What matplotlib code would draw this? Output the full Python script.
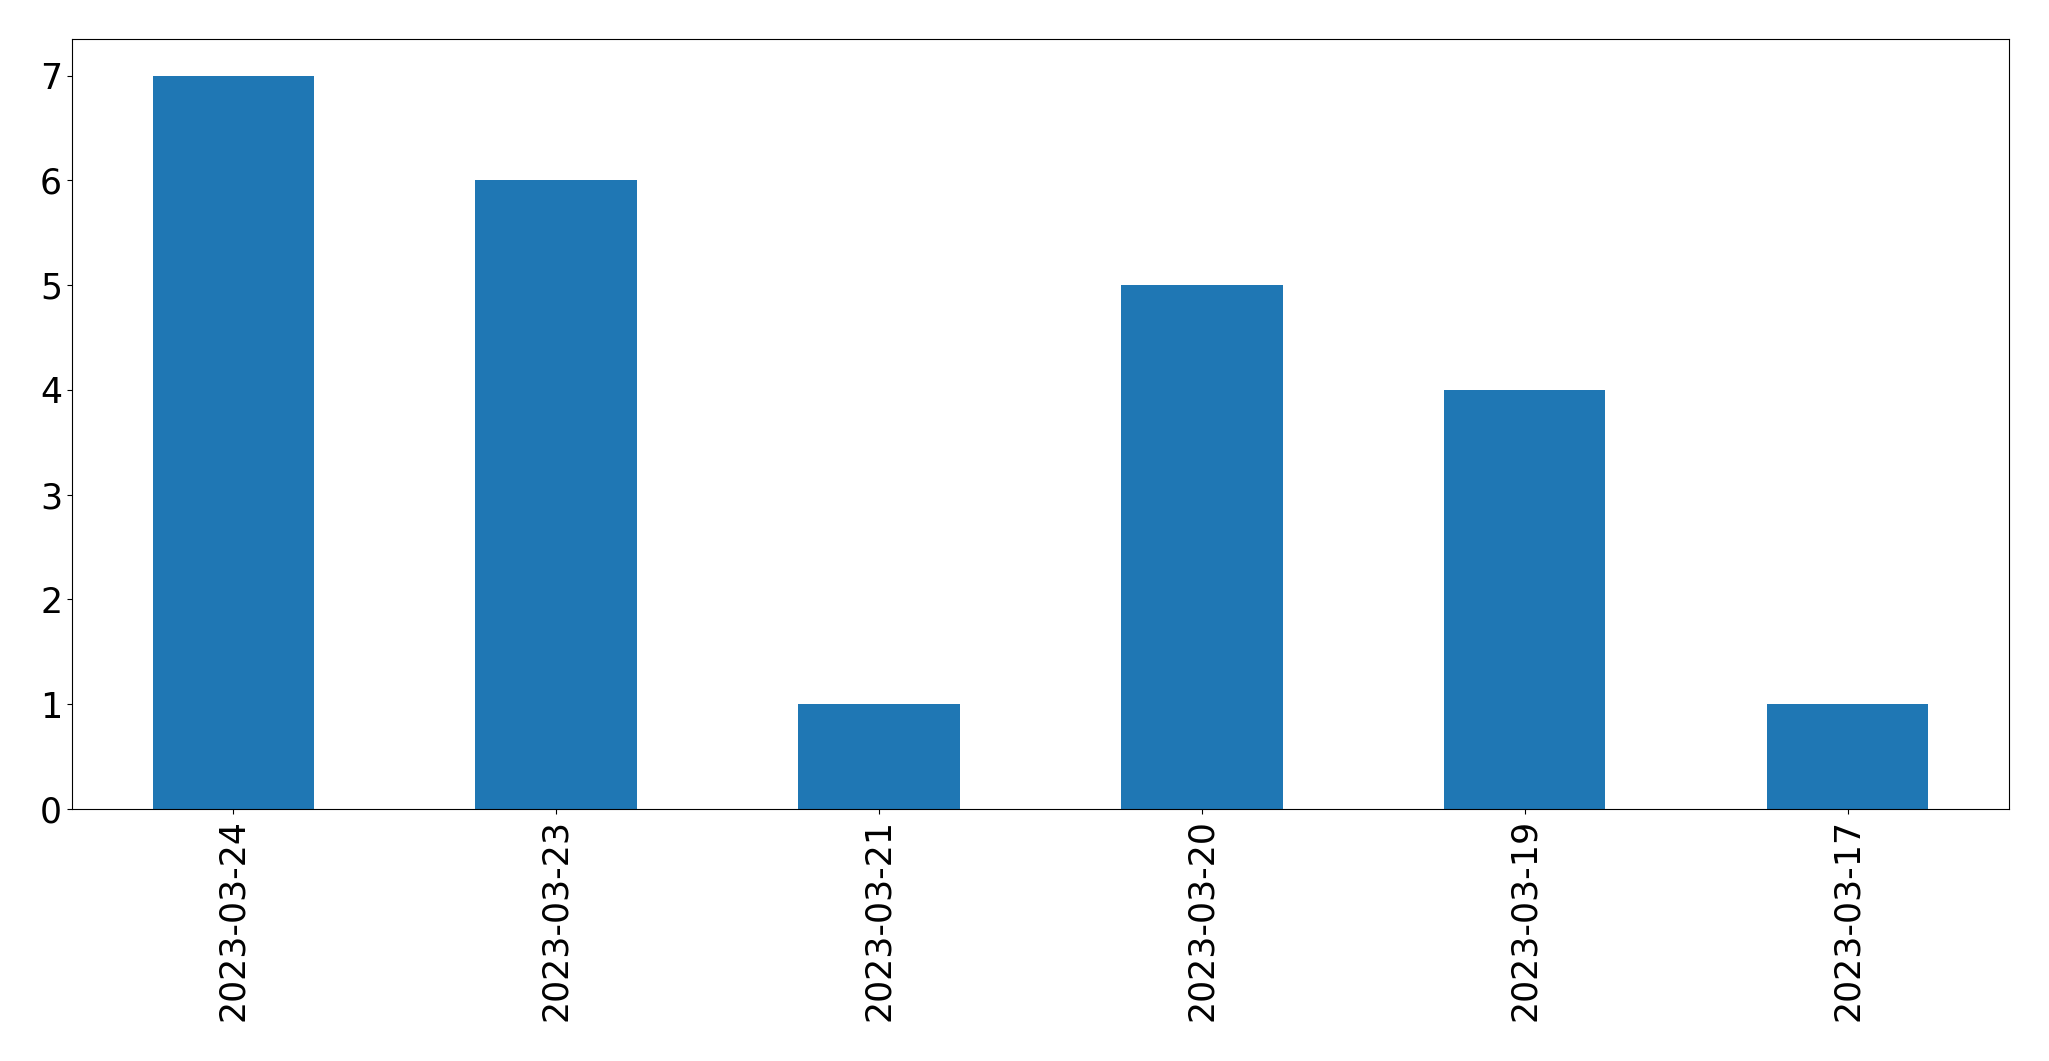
import matplotlib
matplotlib.use("Agg")
import matplotlib.pyplot as plt
import pandas as pd

# Data
dates = ["2023-03-24", "2023-03-23", "2023-03-21", "2023-03-20", "2023-03-19", "2023-03-17"]
counts = [7, 6, 1, 5, 4, 1]

series = pd.Series(counts, index=dates)

fig = plt.figure(figsize=(20.49, 10.61), dpi=100)
ax = fig.add_axes([0.0351, 0.2375, 0.9454, 0.7257])
series.plot(kind="bar", ax=ax, color="#1f77b4", fontsize=25)
ax.set_xlabel("")

fig.savefig("out.png", dpi=100)
